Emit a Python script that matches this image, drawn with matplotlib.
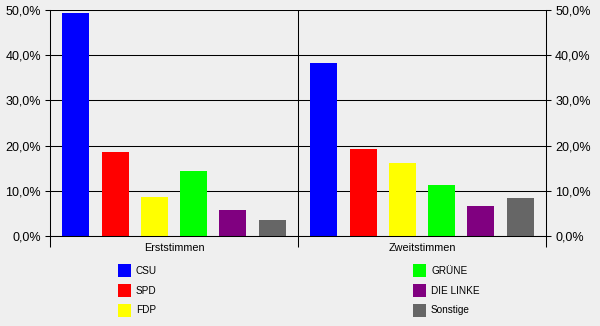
import numpy as np
import matplotlib.pyplot as plt
from matplotlib.patches import Patch
from matplotlib.ticker import FuncFormatter

# Wahlergebnis in Prozent
kategorien = ["Erststimmen", "Zweitstimmen"]
parteien = ["CSU", "SPD", "FDP", "GRÜNE", "DIE LINKE", "Sonstige"]
erststimmen = [49.3, 18.6, 8.6, 14.4, 5.7, 3.5]
zweitstimmen = [38.3, 19.2, 16.2, 11.3, 6.6, 8.4]
farben = ["#0000ff", "#ff0000", "#ffff00", "#00ff00", "#800080", "#666666"]

plt.rcParams['font.family'] = ['Liberation Sans', 'DejaVu Sans']
hintergrund = "#efefef"
W, H = 600, 326

fig = plt.figure(figsize=(W / 100, H / 100), dpi=100, facecolor=hintergrund)
ax = fig.add_axes([50 / W, 1 - 236 / H, 496 / W, 226 / H], facecolor=hintergrund)

werte = np.array([erststimmen, zweitstimmen])
schritt = 0.1585
breite = 0.109
for j, (partei, farbe) in enumerate(zip(parteien, farben)):
    x = np.arange(len(kategorien)) + 0.5 + (j - 2.5) * schritt
    ax.bar(x, werte[:, j], width=breite, color=farbe, label=partei, zorder=3)

ax.set_xlim(0, len(kategorien))
ax.set_ylim(0, 50)
ax.set_yticks(np.arange(0, 51, 10))
ax.yaxis.set_major_formatter(FuncFormatter(lambda v, _: f"{v:.1f}%".replace(".", ",")))
ax.grid(axis='y', color='black', linewidth=0.75, zorder=1)
ax.axvline(1, color='black', linewidth=0.75, zorder=2)

# Kategoriegrenzen als lange Striche, Beschriftung in der Mitte
ax.set_xticks([0, 1, 2])
ax.set_xticklabels([])
ax.set_xticks([0.5, 1.5], minor=True)
ax.set_xticklabels(kategorien, minor=True, fontsize=7.8)
ax.tick_params(axis='x', which='major', length=8, width=0.75, direction='out')
ax.tick_params(axis='x', which='minor', length=0, pad=5)
ax.tick_params(axis='y', length=3.6, width=0.75, direction='out', labelsize=9,
               right=True, labelright=True, pad=3)

for s in ['left', 'right', 'bottom']:
    ax.spines[s].set_linewidth(0.75)
    ax.spines[s].set_zorder(4)
ax.spines['top'].set_visible(False)

handles = [Patch(facecolor=f, edgecolor='none', label=p) for p, f in zip(parteien, farben)]
for k, x0 in enumerate([118, 413]):
    fig.legend(handles=handles[3 * k:3 * k + 3], loc='upper left',
               bbox_to_anchor=(x0 / W, 1 - 264 / H), frameon=False, fontsize=7.2,
               borderpad=0, borderaxespad=0, handlelength=1.3, handleheight=1.62,
               handletextpad=0.5, labelspacing=0.68)

fig.savefig("out.png", dpi=100, facecolor=hintergrund)
